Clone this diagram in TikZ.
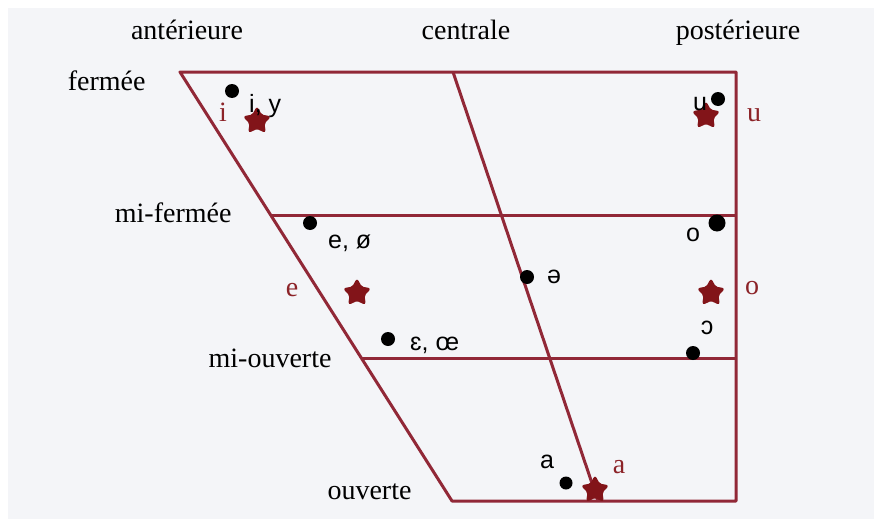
\documentclass[tikz,border=0pt]{standalone}
\usepackage{fontspec}
\setmainfont{Liberation Serif}
\newfontfamily\ipafont{Liberation Sans}
\usetikzlibrary{shapes.geometric}
\definecolor{linec}{RGB}{145,40,55}
\definecolor{starc}{RGB}{130,20,25}
\definecolor{redtxt}{RGB}{140,35,40}
\definecolor{bgc}{RGB}{244,245,248}
\begin{document}
\begin{tikzpicture}[x=1pt,y=-1pt,
 grid/.style={draw=linec,line width=3pt,line join=round},
 dot/.style={circle,fill=black,inner sep=0pt,minimum size=14pt},
 vstar/.style={star,star points=5,star point ratio=1.9,fill=starc,draw=starc,line width=1.5pt,inner sep=0pt,minimum size=27pt,rounded corners=2pt},
 axislab/.style={font=\fontsize{28}{30}\selectfont,anchor=base},
 rowlab/.style={font=\fontsize{28}{30}\selectfont,anchor=base east},
 ipa/.style={font=\ipafont\fontsize{25}{27}\selectfont,inner sep=0pt},
 card/.style={font=\fontsize{28}{30}\selectfont,text=redtxt,inner sep=0pt}]
\useasboundingbox (0,0) rectangle (874,519);
\fill[white] (0,0) rectangle (874,519);
\fill[bgc] (8,8) rectangle (874,519);
% frame
\coordinate (TL) at (180,72);
\coordinate (TR) at (736,72);
\coordinate (BR) at (736,501);
\coordinate (BL) at (452,501);
\coordinate (TC) at (453,72);
\coordinate (BC) at (598,501);
\coordinate (MFL) at (271,215);
\coordinate (MFR) at (736,215);
\coordinate (MOL) at (361,358);
\coordinate (MOR) at (736,358);
\draw[grid] (BL) -- (TL) -- (TR) -- (BR) -- cycle;
\draw[grid] (TC) -- (BC);
\draw[grid] (MFL) -- (MFR);
\draw[grid] (MOL) -- (MOR);
% axis labels
\node[axislab] (ant) at (187,40) {antérieure};
\node[axislab] (cen) at (466,40) {centrale};
\node[axislab] (pos) at (738,40) {postérieure};
\node[rowlab] (fer) at (149,90) {fermée};
\node[rowlab] (mif) at (235,222) {mi-fermée};
\node[rowlab] (mio) at (335,367) {mi-ouverte};
\node[rowlab] (ouv) at (415,499) {ouverte};
% dots
\node[dot] (d1) at (232,91) {};
\node[dot] (d2) at (718,99) {};
\node[dot] (d3) at (310,223) {};
\node[dot,minimum size=17pt] (d4) at (717,223) {};
\node[dot] (d5) at (527,277) {};
\node[dot] (d6) at (388,339) {};
\node[dot] (d7) at (693,353) {};
\node[dot,minimum size=13pt] (d8) at (566,483) {};
% stars
\node[vstar] (s1) at (257,121) {};
\node[vstar] (s2) at (706,116) {};
\node[vstar] (s3) at (357,293) {};
\node[vstar] (s4) at (711,293) {};
\node[vstar] (s5) at (595,490) {};
% black IPA labels
\node[ipa,anchor=base west] (l1) at (249,112) {i, y};
\node[ipa] (l2) at (700,104) {u};
\node[ipa,anchor=base west] (l3) at (328,248) {e, ø};
\node[ipa,anchor=base west] (l4) at (410,350) {ɛ, œ};
\node[ipa] (l5) at (554,277) {ə};
\node[ipa] (l6) at (693,235) {o};
\node[ipa] (l7) at (707,328) {ɔ};
\node[ipa] (l8) at (547,462) {a};
% red cardinal labels
\node[card,anchor=base] (c1) at (223,121) {i};
\node[card,anchor=base] (c2) at (754,121) {u};
\node[card] (c3) at (292,290) {e};
\node[card] (c4) at (752,288) {o};
\node[card] (c5) at (619,467) {a};
\end{tikzpicture}
\end{document}
